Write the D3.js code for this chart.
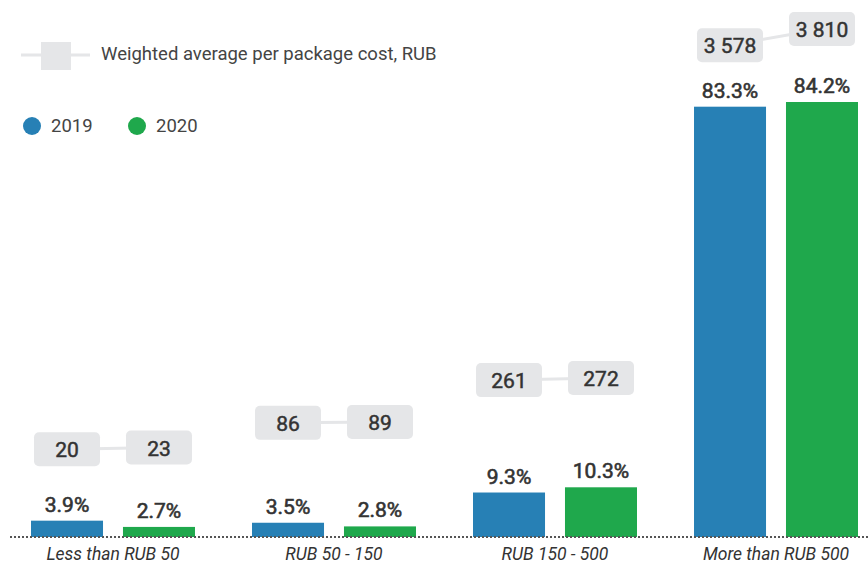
<!DOCTYPE html>
<html>
<head>
<meta charset="utf-8">
<script src="https://cdn.jsdelivr.net/npm/d3@7"></script>
<style>
  body { margin: 0; background: #fff; font-family: Roboto, "Noto Sans", sans-serif; }
  .valueText { font-size: 21px; font-weight: 400; fill: #333; stroke: #333; stroke-width: 0.6px; text-anchor: middle; }
  .costText { font-size: 21px; font-weight: 400; fill: #333; stroke: #333; stroke-width: 0.5px; text-anchor: middle; dominant-baseline: central; }
  .catText { font-size: 17.5px; font-style: italic; fill: #333; text-anchor: middle; }
  .legText { font-size: 18.5px; fill: #444; dominant-baseline: central; }
</style>
</head>
<body>
<div id="chart"></div>
<script>
// Data
const categories = ["Less than RUB 50", "RUB 50 - 150", "RUB 150 - 500", "More than RUB 500"];
const years = ["2019", "2020"];
const share2019 = [3.9, 3.5, 9.3, 83.3];
const share2020 = [2.7, 2.8, 10.3, 84.2];
const cost2019 = [20, 86, 261, 3578];
const cost2020 = [23, 89, 272, 3810];
const costLabels2019 = ["20", "86", "261", "3 578"];
const costLabels2020 = ["23", "89", "272", "3 810"];

const colors = { "2019": "#2780b5", "2020": "#1fa84c" };
const boxFill = "#e5e6e8";

(function() {

  //Set up the layout
  const svgWidth = 868, svgHeight = 565;
  const baseline = 537;

  const svg = d3.select("#chart")
    .append("svg")
    .attr("width", svgWidth)
    .attr("height", svgHeight);

  // rows per category
  const rows = categories.map((c, i) => ({
    cat: c,
    values: [
      { year: "2019", share: share2019[i], cost: cost2019[i], label: costLabels2019[i] },
      { year: "2020", share: share2020[i], cost: cost2020[i], label: costLabels2020[i] }
    ]
  }));

  //Scales
  const x0 = d3.scaleBand()
    .domain(categories)
    .range([31, 858])
    .paddingInner(0.258);

  const x1 = d3.scaleBand()
    .domain(years)
    .range([0, x0.bandwidth()])
    .paddingInner(0.217);

  const yScale = d3.scaleLinear()
    .domain([0, d3.max(share2020.concat(share2019))])
    .range([541, 102]);

  // cost line sits on its own compressed scale
  const costScale = d3.scalePow()
    .exponent(0.6)
    .domain([0, d3.max(cost2020)])
    .range([468, 29]);

  //Legend
  const leg = svg.append("g");
  leg.append("line")
    .attr("x1", 21).attr("x2", 90)
    .attr("y1", 55).attr("y2", 55)
    .attr("stroke", boxFill)
    .attr("stroke-width", 3);
  leg.append("rect")
    .attr("x", 41).attr("y", 42)
    .attr("width", 30).attr("height", 28)
    .attr("fill", boxFill);
  leg.append("text")
    .attr("class", "legText")
    .attr("x", 101).attr("y", 54)
    .text("Weighted average per package cost, RUB");

  const yearLeg = svg.append("g").selectAll("g")
    .data(years)
    .enter()
    .append("g")
    .attr("transform", (d, i) => `translate(${32 + i * 105}, 126)`);
  yearLeg.append("circle")
    .attr("r", 9)
    .attr("fill", d => colors[d]);
  yearLeg.append("text")
    .attr("class", "legText")
    .attr("x", 19)
    .attr("y", 0)
    .text(d => d);

  //Groups
  const groups = svg.selectAll(".group")
    .data(rows)
    .enter()
    .append("g")
    .attr("class", "group")
    .attr("transform", d => `translate(${x0(d.cat)}, 0)`);

  //Bars
  groups.selectAll("rect.bar")
    .data(d => d.values)
    .enter()
    .append("rect")
    .attr("class", "bar")
    .attr("x", d => x1(d.year))
    .attr("y", d => yScale(d.share))
    .attr("width", x1.bandwidth())
    .attr("height", d => baseline - yScale(d.share))
    .attr("fill", d => colors[d.year]);

  groups.selectAll("text.valueText")
    .data(d => d.values)
    .enter()
    .append("text")
    .attr("class", "valueText")
    .attr("x", d => x1(d.year) + x1.bandwidth() / 2)
    .attr("y", d => yScale(d.share) - 9)
    .text(d => d.share.toFixed(1) + "%");

  //Cost line and boxes
  const half = x1.bandwidth() / 2;
  groups.append("line")
    .attr("x1", d => x1("2019") + half)
    .attr("x2", d => x1("2020") + half)
    .attr("y1", d => costScale(d.values[0].cost))
    .attr("y2", d => costScale(d.values[1].cost))
    .attr("stroke", boxFill)
    .attr("stroke-width", 3);

  const boxes = groups.selectAll("g.cost")
    .data(d => d.values)
    .enter()
    .append("g")
    .attr("class", "cost")
    .attr("transform", d => `translate(${x1(d.year) + half}, ${costScale(d.cost)})`);
  boxes.append("rect")
    .attr("x", -33).attr("y", -17)
    .attr("width", 66).attr("height", 34)
    .attr("rx", 5)
    .attr("fill", boxFill);
  boxes.append("text")
    .attr("class", "costText")
    .attr("y", 1)
    .text(d => d.label);

  //Baseline
  svg.append("line")
    .attr("x1", 10).attr("x2", svgWidth)
    .attr("y1", baseline).attr("y2", baseline)
    .attr("stroke", "#555")
    .attr("stroke-width", 2)
    .attr("stroke-dasharray", "2,2");

  //Category labels
  svg.selectAll(".catText")
    .data(categories)
    .enter()
    .append("text")
    .attr("class", "catText")
    .attr("x", d => x0(d) + x0.bandwidth() / 2)
    .attr("y", 560)
    .text(d => d);

})();
</script>
</body>
</html>
